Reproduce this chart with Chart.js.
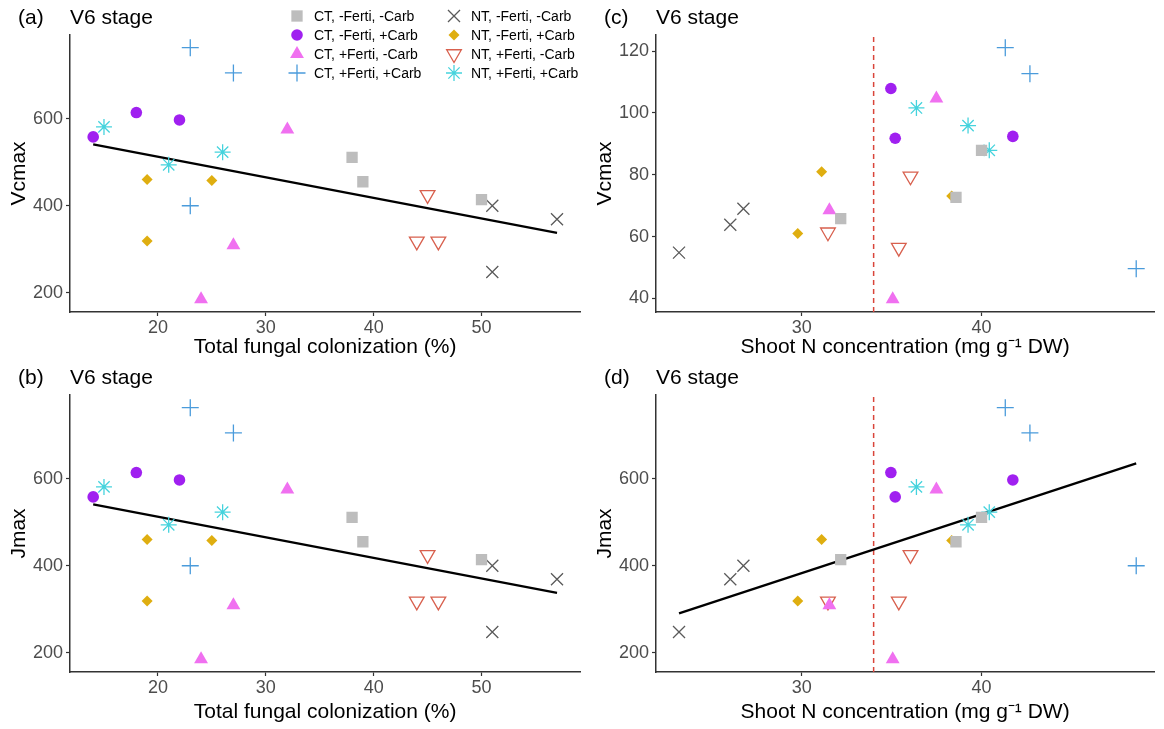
<!DOCTYPE html>
<html>
<head>
<meta charset="utf-8">
<script src="https://cdn.jsdelivr.net/npm/chart.js@4.4.1/dist/chart.umd.min.js"></script>
<style>
  html, body { margin: 0; padding: 0; background: #fff; }
  body { width: 1164px; height: 729px; position: relative; overflow: hidden; }
  canvas { position: absolute; }
</style>
</head>
<body>
<canvas id="pa" width="590" height="360" style="left:0;top:0"></canvas>
<canvas id="pc" width="578" height="360" style="left:586px;top:0"></canvas>
<canvas id="pb" width="590" height="369" style="left:0;top:360px"></canvas>
<canvas id="pd" width="578" height="369" style="left:586px;top:360px"></canvas>
<script>
// treatments, 3 plots each
const groups = [
  "CT, -Ferti, -Carb", "CT, -Ferti, +Carb", "CT, +Ferti, -Carb", "CT, +Ferti, +Carb",
  "NT, -Ferti, -Carb", "NT, -Ferti, +Carb", "NT, +Ferti, -Carb", "NT, +Ferti, +Carb"
];
// total fungal colonization (%)
const colonization = [
  [38, 39, 50], [14, 18, 22], [32, 27, 24], [23, 27, 23],
  [51, 57, 51], [19, 19, 25], [45, 44, 46], [15, 21, 26]
];
// shoot N concentration (mg g-1 DW)
const shootN = [
  [40.0, 38.58, 32.17], [35.2, 34.96, 41.74], [37.49, 31.54, 35.06], [41.32, 42.69, 48.6],
  [26.76, 26.03, 23.18], [31.11, 29.78, 38.34], [36.05, 31.46, 35.4], [36.38, 39.25, 40.43]
];
// Jmax (panel a shows the same values)
const jmax = [
  [511, 455, 414], [558, 614, 597], [575, 309, 185], [763, 705, 400],
  [400, 369, 248], [460, 319, 458], [425, 318, 318], [581, 494, 523]
];
const vcmax = [
  [87.9, 72.7, 65.8], [91.8, 107.9, 92.4], [104.7, 68.5, 39.7], [121.1, 112.7, 49.6],
  [69.0, 63.8, 54.8], [81.0, 61.0, 73.1], [79.5, 61.4, 56.4], [101.6, 95.9, 87.9]
];
const nThreshold = 34;

const colTicks = [20, 30, 40, 50];
const nTicks = [30, 40];
const jmaxTicks = [200, 400, 600];
const vcmaxTicks = [40, 60, 80, 100, 120];

const colRange = [11.85, 59.15];
const nRange = [21.9, 49.6];
const jmaxRange = [156, 792];
const vcmaxRange = [35.6, 125.2];

const markers = [
  { shape: "rect", color: "#bdbdbd", filled: true, r: 8 },
  { shape: "circle", color: "#a020f0", filled: true, r: 5.8 },
  { shape: "triangle", color: "#f070f0", filled: true, r: 8 },
  { shape: "cross", color: "#4a9bdb", filled: false, r: 8.5 },
  { shape: "crossRot", color: "#5a5a5a", filled: false, r: 8.5 },
  { shape: "rectRot", color: "#dfae10", filled: true, r: 5.5 },
  { shape: "triangle", rot: 180, color: "#d8604e", filled: false, r: 8.5 },
  { shape: "star", color: "#45d3dd", filled: false, r: 8 }
];

const FONT = "'Liberation Sans', Arial, sans-serif";
Chart.defaults.font.family = FONT;

function linFit(xs, ys) {
  const n = xs.length;
  const mx = xs.reduce((a, b) => a + b, 0) / n;
  const my = ys.reduce((a, b) => a + b, 0) / n;
  let sxy = 0, sxx = 0;
  for (let i = 0; i < n; i++) {
    sxy += (xs[i] - mx) * (ys[i] - my);
    sxx += (xs[i] - mx) * (xs[i] - mx);
  }
  const b = sxy / sxx;
  return { a: my - b * mx, b };
}

// panel letter + stage text
const panelTitle = {
  id: "panelTitle",
  afterDraw(chart, args, opts) {
    const ctx = chart.ctx;
    const left = chart.chartArea.left;
    ctx.save();
    ctx.fillStyle = "#000";
    ctx.font = "21px " + FONT;
    ctx.textBaseline = "middle";
    ctx.textAlign = "left";
    ctx.fillText(opts.letter, left - 52, 18);
    ctx.fillText("V6 stage", left, 18);
    ctx.restore();
  }
};

// two-column legend as in panel (a)
const groupLegend = {
  id: "groupLegend",
  afterDraw(chart, args, opts) {
    if (!opts.show) return;
    const ctx = chart.ctx;
    const colX = [297, 454];
    const rowY = [16, 35, 54, 73];
    ctx.save();
    groups.forEach((g, i) => {
      const m = markers[i];
      const x = colX[Math.floor(i / 4)];
      const y = rowY[i % 4];
      ctx.fillStyle = m.filled ? m.color : "rgba(0,0,0,0)";
      ctx.strokeStyle = m.color;
      ctx.lineWidth = m.filled ? 0 : 1.3;
      Chart.helpers.drawPoint(ctx, {
        pointStyle: m.shape, rotation: m.rot || 0, radius: m.r,
        borderWidth: m.filled ? 0 : 1.3
      }, x, y);
      ctx.fillStyle = "#000";
      ctx.font = "14px " + FONT;
      ctx.textBaseline = "middle";
      ctx.textAlign = "left";
      ctx.fillText(g, x + 17, y + 1);
    });
    ctx.restore();
  }
};

function makePanel(id, o) {
  const datasets = groups.map((g, i) => {
    const m = markers[i];
    return {
      label: g,
      data: o.x[i].map((v, j) => ({ x: v, y: o.y[i][j] })),
      pointStyle: m.shape,
      rotation: m.rot || 0,
      pointRadius: m.r,
      pointHoverRadius: m.r,
      backgroundColor: m.filled ? m.color : "rgba(0,0,0,0)",
      borderColor: m.color,
      borderWidth: m.filled ? 0 : 1.3,
      showLine: false
    };
  });

  if (o.fit) {
    const xs = o.x.flat(), ys = o.y.flat();
    const f = linFit(xs, ys);
    const lo = Math.min(...xs), hi = Math.max(...xs);
    datasets.push({
      label: "fit",
      data: [{ x: lo, y: f.a + f.b * lo }, { x: hi, y: f.a + f.b * hi }],
      showLine: true, borderColor: "#000", borderWidth: 2.3,
      pointRadius: 0, fill: false
    });
  }
  if (o.vline) {
    datasets.push({
      label: "threshold",
      data: [{ x: nThreshold, y: o.yRange[0] }, { x: nThreshold, y: o.yRange[1] }],
      showLine: true, borderColor: "#d9453a", borderWidth: 1.5, borderDash: [5, 4],
      pointRadius: 0, fill: false
    });
  }

  const axisCommon = {
    type: "linear",
    grid: { display: true, drawOnChartArea: false, drawTicks: true, tickLength: 4, tickColor: "#333", tickWidth: 1.2 },
    border: { display: true, color: "#333", width: 1.5 },
    ticks: { color: "#4d4d4d", font: { size: 18 }, autoSkip: false, maxRotation: 0 }
  };

  return new Chart(document.getElementById(id), {
    type: "scatter",
    data: { datasets },
    options: {
      responsive: false,
      animation: false,
      events: [],
      layout: { padding: { top: 35, right: o.padRight, bottom: o.padBottom, left: 0 } },
      scales: {
        x: {
          ...axisCommon,
          min: o.xRange[0], max: o.xRange[1],
          ticks: { ...axisCommon.ticks, padding: 1 },
          afterBuildTicks: s => { s.ticks = o.xTicks.map(v => ({ value: v })); },
          afterFit: s => { s.height = o.xHeight; },
          title: { display: true, text: o.xTitle, color: "#000", font: { size: 21 }, padding: { top: 0, bottom: 0 } }
        },
        y: {
          ...axisCommon,
          min: o.yRange[0], max: o.yRange[1],
          ticks: { ...axisCommon.ticks, padding: 3 },
          afterBuildTicks: s => { s.ticks = o.yTicks.map(v => ({ value: v })); },
          afterFit: s => { s.width = 70; },
          title: { display: true, text: o.yTitle, color: "#000", font: { size: 21 }, padding: { top: 7, bottom: 0 } }
        }
      },
      plugins: {
        legend: { display: false },
        tooltip: { enabled: false },
        panelTitle: { letter: o.letter },
        groupLegend: { show: !!o.legend }
      }
    },
    plugins: [panelTitle, groupLegend]
  });
}

const nTitle = ["Shoot N concentration (mg g\u207B\u00B9 DW)"];

makePanel("pa", {
  letter: "(a)", legend: true, fit: true,
  x: colonization, y: jmax, xRange: colRange, yRange: jmaxRange,
  xTicks: colTicks, yTicks: jmaxTicks,
  xTitle: "Total fungal colonization (%)", yTitle: "Vcmax",
  padRight: 6, padBottom: 0, xHeight: 48
});
makePanel("pc", {
  letter: "(c)", vline: true,
  x: shootN, y: vcmax, xRange: nRange, yRange: vcmaxRange,
  xTicks: nTicks, yTicks: vcmaxTicks,
  xTitle: nTitle[0], yTitle: "Vcmax",
  padRight: 0, padBottom: 0, xHeight: 48
});
makePanel("pb", {
  letter: "(b)", fit: true,
  x: colonization, y: jmax, xRange: colRange, yRange: jmaxRange,
  xTicks: colTicks, yTicks: jmaxTicks,
  xTitle: "Total fungal colonization (%)", yTitle: "Jmax",
  padRight: 6, padBottom: 4, xHeight: 53
});
makePanel("pd", {
  letter: "(d)", fit: true, vline: true,
  x: shootN, y: jmax, xRange: nRange, yRange: jmaxRange,
  xTicks: nTicks, yTicks: jmaxTicks,
  xTitle: nTitle[0], yTitle: "Jmax",
  padRight: 0, padBottom: 4, xHeight: 53
});
</script>
</body>
</html>
